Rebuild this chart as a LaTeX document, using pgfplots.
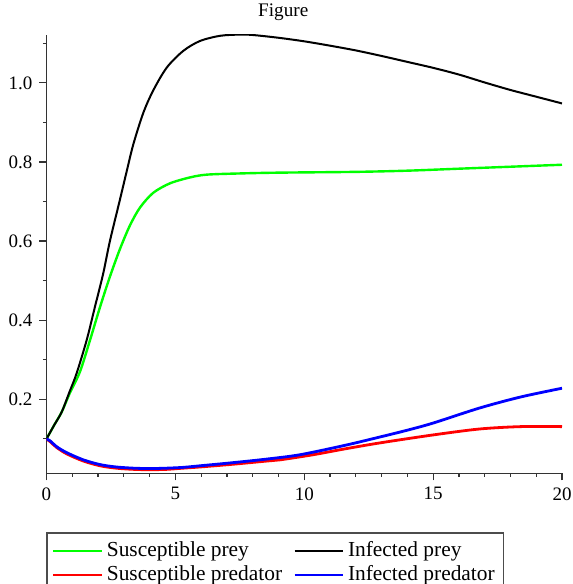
\documentclass[border=0pt]{standalone}
\usepackage{fontspec}
\setmainfont{Liberation Serif}
\usepackage{pgfplots}
\pgfplotsset{compat=1.18}
\newcommand\tl[1]{\hbox{\rmfamily\fontsize{9.5}{11}\selectfont #1}}

\begin{document}
\begin{tikzpicture}
\begin{axis}[
  name=ax,
  scale only axis,
  width=257.75pt, height=219.15pt,
  xmin=0, xmax=20, ymin=0.013, ymax=1.121,
  axis lines*=left,
  axis line style={black!80, line width=0.7pt},
  tick align=outside,
  major tick length=3.5pt, minor tick length=1.75pt,
  tick style={black!80, line width=0.6pt},
  xtick={0,5,10,15,20}, minor xtick={1,...,19},
  xticklabels={\tl{0},\tl{5},\tl{10},\tl{15},\tl{20}},
  ytick={0.2,0.4,0.6,0.8,1.0}, minor ytick={0.1,0.3,0.5,0.7,0.9,1.1},
  yticklabels={\tl{0.2},\tl{0.4},\tl{0.6},\tl{0.8},\tl{1.0}},
  tick label style={font=\fontsize{9.5}{11}\selectfont},
  title={Figure},
  title style={font=\fontsize{9.6}{11}\selectfont, at={(0.5,1)}, anchor=base, yshift=3.35pt, xshift=-10.5pt},
  legend columns=2,
  legend cell align=left,
  legend style={at={(0,0)}, anchor=north west, yshift=-29.5pt,
    font=\fontsize{10.7}{12}\selectfont, draw=black!70, line width=0.6pt,
    inner xsep=2.5pt, inner ysep=3pt, row sep=0pt,
    /tikz/every even column/.append style={column sep=3.5pt},
    nodes={inner ysep=0.75pt, text height=8pt, text depth=2.5pt}},
  legend image code/.code={\draw[#1] (0pt,0pt) -- (24pt,0pt);},
]
% Susceptible prey
\addplot[color={rgb,255:red,0;green,255;blue,0}, line width=1.2pt, smooth] coordinates {
  (0,0.100) (0.3,0.135) (0.59,0.168) (0.9,0.215) (1.30,0.270) (1.69,0.350)
  (2.08,0.434) (2.46,0.510) (2.85,0.580) (3.24,0.640) (3.63,0.685)
  (4.14,0.722) (4.79,0.746) (5.57,0.761) (6.22,0.768) (7.5,0.771) (9,0.773)
  (12,0.775) (14,0.778) (16,0.783) (18,0.788) (20,0.793)
};
\addlegendentry{Susceptible prey}
% Infected prey
\addplot[color=black, line width=1.0pt, smooth] coordinates {
  (0,0.100) (0.3,0.135) (0.59,0.168) (0.9,0.220) (1.17,0.266) (1.56,0.350)
  (1.88,0.434) (2.2,0.518) (2.46,0.600) (2.85,0.705) (3.11,0.776) (3.37,0.845)
  (3.76,0.925) (4.15,0.982) (4.67,1.039) (5.31,1.081) (5.96,1.106) (6.74,1.119)
  (7.5,1.122) (8,1.121) (9,1.114) (10,1.105) (11,1.094) (12,1.082) (13,1.068)
  (14,1.053) (15,1.038) (16,1.021) (17,1.001) (18,0.982) (19,0.965) (20,0.948)
};
\addlegendentry{Infected prey}
% Susceptible predator
\addplot[color=red, line width=1.4pt, smooth] coordinates {
  (0,0.100) (0.14,0.093) (0.4,0.078) (0.79,0.062) (1.43,0.044) (2.08,0.032)
  (2.7,0.026) (3.37,0.023) (4.0,0.022) (4.67,0.023) (5.3,0.026) (5.96,0.029)
  (7.25,0.036) (8.55,0.044) (9.06,0.047) (10.35,0.060) (11.6,0.075) (12.95,0.090)
  (15,0.110) (16.8,0.125) (18.4,0.131) (20,0.131)
};
\addlegendentry{Susceptible predator}
% Infected predator
\addplot[color=blue, line width=1.4pt, smooth] coordinates {
  (0,0.100) (0.14,0.095) (0.4,0.080) (0.79,0.065) (1.43,0.047) (2.08,0.035)
  (2.7,0.029) (3.37,0.026) (4.0,0.025) (4.67,0.026) (5.3,0.028) (5.96,0.032)
  (7.25,0.040) (8.55,0.049) (9.84,0.060) (11.6,0.084) (12.95,0.105)
  (14,0.122) (15,0.140) (16.8,0.178) (18.4,0.206) (20,0.228)
};
\addlegendentry{Infected predator}
\end{axis}
\pgfresetboundingbox
\path[use as bounding box] (ax.south west) ++(-23.25pt,-55.35pt) rectangle ++(286.5pt,292pt);
\end{tikzpicture}
\end{document}
